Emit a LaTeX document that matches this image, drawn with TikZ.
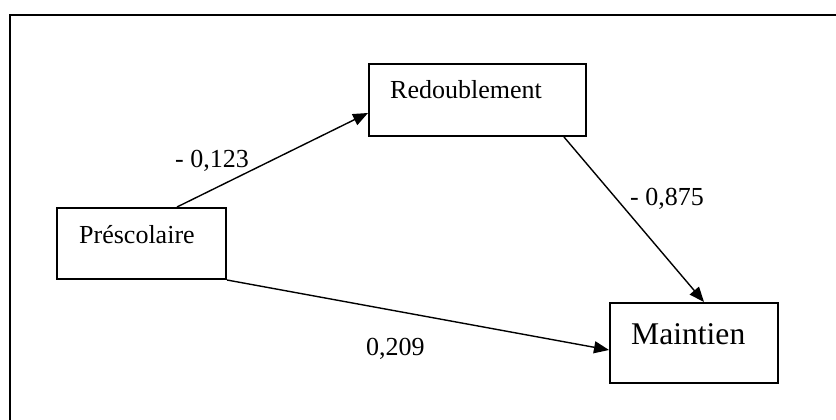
\documentclass[tikz,border=0pt]{standalone}
\usepackage{fontspec}
\setmainfont{Liberation Serif}
\usetikzlibrary{arrows.meta,calc}
\begin{document}
\begin{tikzpicture}[x=1pt,y=-1pt,
  box/.style={draw,line width=2pt,rectangle,inner sep=0pt},
  txt/.style={anchor=base west,inner sep=0pt,font=\fontsize{26}{30}\selectfont},
  bigtxt/.style={anchor=base west,inner sep=0pt,font=\fontsize{31.6}{36}\selectfont},
  conn/.style={line width=1.4pt,-{Triangle[length=15pt,width=12pt]}}]
\useasboundingbox (0,0) rectangle (836,420);
% frame
\coordinate (fbl) at (10,421);
\coordinate (ftl) at (10,15);
\coordinate (ftr) at (837,15);
\draw[line width=2pt] (fbl) -- (ftl) -- (ftr);
% boxes
\node[box,minimum width=217pt,minimum height=72pt] (red) at (477.5,100) {};
\node[box,minimum width=169pt,minimum height=71pt] (pre) at (141.5,243.5) {};
\node[box,minimum width=168pt,minimum height=80pt] (mai) at (694,343) {};
% box texts
\node[txt] (redt) at (390,99) {Redoublement};
\node[txt] (pret) at (79,243) {Préscolaire};
\node[bigtxt] (mait) at (631,344) {Maintien};
% connectors
\draw[conn] ($(pre.north west)+(121,0)$) -- ($(red.west)+(0,13)$);
\draw[conn] ($(red.south east)+(-23,0)$) -- ($(mai.north west)+(95,0)$);
\draw[conn] (pre.south east) -- ($(mai.west)+(0,7)$);
% labels
\node[txt] (l1) at (175,167) {- 0,123};
\node[txt] (l2) at (630,205) {- 0,875};
\node[txt] (l3) at (366,355) {0,209};
\end{tikzpicture}
\end{document}
